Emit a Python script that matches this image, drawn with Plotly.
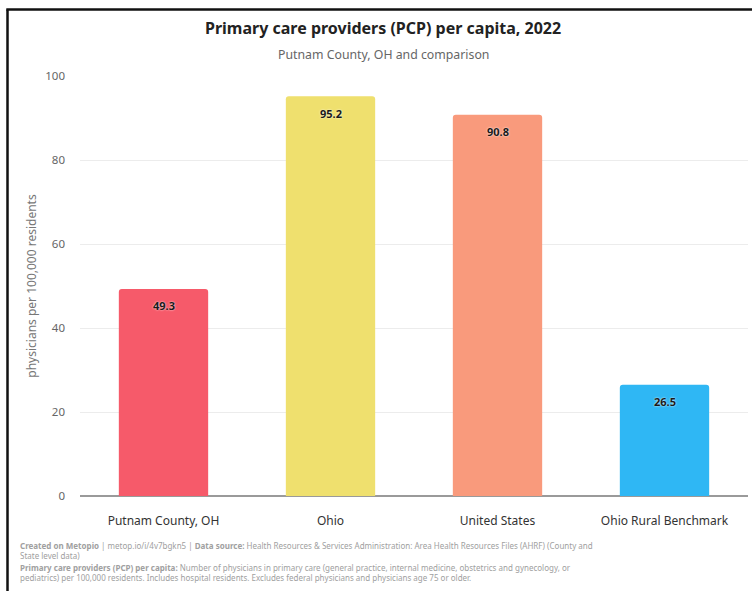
import plotly.graph_objects as go

# Primary care providers per 100,000 residents, 2022
categories = ["Putnam County, OH", "Ohio", "United States", "Ohio Rural Benchmark"]
values = [49.3, 95.2, 90.8, 26.5]
bar_colors = ["#F65A6A", "#EFE06E", "#F99A7C", "#2FB7F4"]
y_ticks = [0, 20, 40, 60, 80, 100]

FONT = "Noto Sans"
W, H = 752, 591
ML, MR, MT, MB = 80, 4, 76, 95
PW, PH = W - ML - MR, H - MT - MB


def px_x(x):
    return (x - ML) / PW


def px_y(y):
    return 1 - (y - MT) / PH


fig = go.Figure(
    go.Bar(
        x=categories,
        y=values,
        marker=dict(color=bar_colors, line=dict(width=0)),
        width=0.535,
        hoverinfo="x+y",
    )
)

# value labels placed just inside the top of each bar
value_labels = [
    dict(x=c, y=v, xref="x", yref="y", text=f"<b>{v:.1f}</b>",
         showarrow=False, yanchor="middle", yshift=-17,
         font=dict(family=FONT, size=11, color="#1a1a1a",
                   shadow="0px 0px 2px white"))
    for c, v in zip(categories, values)
]

footer_1 = ("<b>Created on Metopio</b> | metop.io/i/4v7bgkn5 | <b>Data source:</b> "
            "Health Resources &amp; Services Administration: Area Health Resources Files (AHRF) (County and"
            "<br>State level data)")
footer_2 = ("<b>Primary care providers (PCP) per capita:</b> Number of physicians in primary care "
            "(general practice, internal medicine, obstetrics and gynecology, or"
            "<br>pediatrics) per 100,000 residents. Includes hospital residents. "
            "Excludes federal physicians and physicians age 75 or older.")

annotations = value_labels + [
    dict(text="<b>Primary care providers (PCP) per capita, 2022</b>",
         x=px_x(383), y=px_y(28), xref="paper", yref="paper",
         showarrow=False, xanchor="center", yanchor="middle",
         font=dict(family=FONT, size=16, color="#222222")),
    dict(text="Putnam County, OH and comparison",
         x=px_x(383), y=px_y(55), xref="paper", yref="paper",
         showarrow=False, xanchor="center", yanchor="middle",
         font=dict(family=FONT, size=12.3, color="#666666")),
    dict(text=footer_1, x=px_x(18), y=px_y(538), xref="paper", yref="paper",
         showarrow=False, xanchor="left", yanchor="top", align="left",
         font=dict(family=FONT, size=8, color="#a0a0a0")),
    dict(text=footer_2, x=px_x(18), y=px_y(560), xref="paper", yref="paper",
         showarrow=False, xanchor="left", yanchor="top", align="left",
         font=dict(family=FONT, size=8, color="#a0a0a0")),
]

shapes = [
    # frame: left and top edges
    dict(type="line", xref="paper", yref="paper",
         x0=px_x(7.5), x1=px_x(7.5), y0=px_y(9.5), y1=px_y(H),
         line=dict(color="#111111", width=2.5)),
    dict(type="line", xref="paper", yref="paper",
         x0=px_x(6.3), x1=px_x(W), y0=px_y(9.5), y1=px_y(9.5),
         line=dict(color="#111111", width=2.5)),
]

fig.update_layout(
    width=W, height=H,
    margin=dict(l=ML, r=MR, t=MT, b=MB),
    paper_bgcolor="white", plot_bgcolor="white",
    font=dict(family=FONT),
    showlegend=False,
    barcornerradius=3,
    annotations=annotations,
    shapes=shapes,
    xaxis=dict(
        showgrid=False, showline=False, ticks="",
        tickfont=dict(family=FONT, size=12, color="#333333"),
        ticklabelstandoff=16,
        fixedrange=True,
    ),
    yaxis=dict(
        range=[0, 100], tickvals=y_ticks,
        showgrid=True, gridcolor="#ececec", gridwidth=1,
        zeroline=True, zerolinecolor="#9a9a9a", zerolinewidth=1.5,
        showline=False, ticks="",
        tickfont=dict(family=FONT, size=11.5, color="#666666"),
        ticklabelstandoff=14,
        title=dict(text="physicians per 100,000 residents",
                   font=dict(family=FONT, size=12, color="#777777"),
                   standoff=6),
        fixedrange=True,
    ),
)

fig.write_html("out.html")
